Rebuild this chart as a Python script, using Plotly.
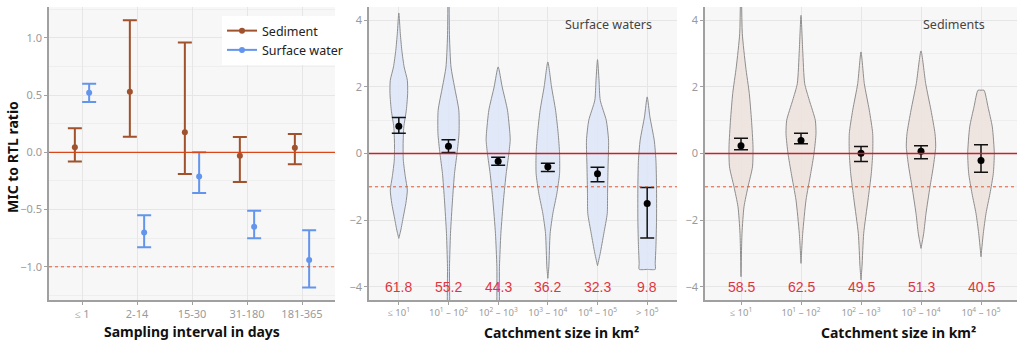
import numpy as np
import plotly.graph_objects as go

# ---------------- data ----------------
interval_cats = ["≤ 1", "2-14", "15-30", "31-180", "181-365"]
sed_mean = [0.045, 0.53, 0.175, -0.03, 0.04]
sed_hi = [0.21, 1.155, 0.96, 0.135, 0.16]
sed_lo = [-0.08, 0.136, -0.19, -0.26, -0.105]
sw_mean = [0.52, -0.70, -0.21, -0.65, -0.94]
sw_hi = [0.60, -0.55, 0.0, -0.51, -0.68]
sw_lo = [0.44, -0.83, -0.355, -0.75, -1.18]

sw_cats = ["≤ 10<sup>1</sup>", "10<sup>1</sup> – 10<sup>2</sup>", "10<sup>2</sup> – 10<sup>3</sup>",
           "10<sup>3</sup> – 10<sup>4</sup>", "10<sup>4</sup> – 10<sup>5</sup>", "> 10<sup>5</sup>"]
sw_c_mean = [0.82, 0.22, -0.23, -0.40, -0.61, -1.50]
sw_c_hi = [1.08, 0.41, -0.11, -0.29, -0.41, -1.02]
sw_c_lo = [0.61, 0.03, -0.35, -0.54, -0.85, -2.54]
sw_pct = ["61.8", "55.2", "44.3", "36.2", "32.3", "9.8"]

sed_cats = sw_cats[:5]
sed_c_mean = [0.23, 0.39, 0.01, 0.07, -0.21]
sed_c_hi = [0.46, 0.61, 0.21, 0.23, 0.26]
sed_c_lo = [0.11, 0.29, -0.24, -0.16, -0.56]
sed_pct = ["58.5", "62.5", "49.5", "51.3", "40.5"]

# violin outlines: levels (ratio) and half-widths (in px of the original figure)
sw_violin_y = [
    [4.22, 3.6, 3.1, 2.6, 2.2, 1.8, 1.3, 0.8, 0.3, -0.2, -0.7, -1.1, -1.5, -1.9, -2.3, -2.55],
    [5.0, 3.5, 2.6, 2.0, 1.3, 0.6, 0.0, -0.6, -1.4, -2.4, -3.4, -5.0],
    [2.6, 2.0, 1.3, 0.6, 0.4, 0.0, -0.6, -1.4, -2.4, -3.4, -5.0],
    [2.75, 2.0, 1.3, 0.6, 0.0, -0.6, -1.2, -1.8, -2.4, -3.4, -3.75],
    [2.82, 2.2, 1.6, 1.0, 0.4, -0.4, -1.2, -1.8, -2.4, -3.0, -3.37],
    [1.7, 1.1, 0.4, -0.2, -1.0, -2.0, -2.8, -3.3, -3.48, -3.48],
]
sw_violin_w = [
    [0, 1.5, 3, 5.3, 8.5, 8.8, 7.5, 5, 4.3, 4.5, 6.5, 8.5, 7, 4.5, 2, 0],
    [0.5, 1, 2.5, 6, 10.3, 10.5, 8.5, 6, 4, 2, 1, 0.5],
    [0, 4, 9.3, 11.7, 12, 10.7, 8, 5.3, 2.7, 1.3, 0.5],
    [0, 3.7, 7.7, 10.3, 11.7, 11.7, 9, 5, 2.3, 1, 0],
    [0, 1.5, 2.7, 8.7, 11, 10.5, 10, 9.7, 6.3, 2.7, 0],
    [0, 2.7, 7, 8.7, 9.3, 9.3, 8.7, 8, 8, 0],
]
sed_violin_y = [
    [5.0, 3.6, 2.6, 1.8, 1.0, 0.2, -0.4, -1.0, -1.6, -2.4, -3.7],
    [4.15, 3.1, 2.1, 1.6, 1.0, 0.6, 0.0, -0.6, -1.4, -2.4, -3.3],
    [3.05, 2.1, 1.3, 0.6, 0.0, -0.6, -1.4, -2.4, -3.4, -3.8],
    [3.08, 2.1, 1.3, 0.6, 0.2, -0.4, -1.0, -1.8, -2.4, -2.85],
    [1.9, 1.9, 1.4, 0.8, 0.0, -0.6, -1.2, -1.8, -2.4, -3.1],
]
sed_violin_w = [
    [0.5, 1.3, 4.7, 8.3, 10.5, 12, 11.5, 7, 3, 1, 0],
    [0, 1.7, 3.7, 8.3, 14.3, 15, 13, 9.7, 5, 1.7, 0],
    [0, 3.3, 8.3, 11.7, 11.7, 10.3, 7, 2.7, 1, 0],
    [0, 4.7, 10, 14, 14.7, 12.3, 9, 5, 2.7, 0],
    [0, 3, 7, 11.3, 13.3, 12.3, 9, 5, 2.3, 0],
]

# ---------------- style ----------------
FONT = "Noto Sans"
SED_COL = "#A0522D"
SW_COL = "#6495ED"
BG = "#F7F7F7"
GRID = "#E6E6E6"
MINOR = "#EEEEEE"
AXIS = "#A0A0A0"
TICKF = "#9A9A9A"
PCT_COL = "#E0353F"
W, H = 1024, 342

def px_x(p):
    return p / W

def px_y(p):
    return 1 - p / H

fig = go.Figure()

# ---------------- left panel ----------------
xi = np.arange(len(interval_cats))
for name, col, off, m, hi, lo in [
    ("Sediment", SED_COL, -0.13, sed_mean, sed_hi, sed_lo),
    ("Surface water", SW_COL, 0.13, sw_mean, sw_hi, sw_lo),
]:
    m = np.array(m); hi = np.array(hi); lo = np.array(lo)
    fig.add_trace(go.Scatter(
        x=xi + off, y=m, mode="markers", marker=dict(color=col, size=6),
        error_y=dict(type="data", symmetric=False, array=hi - m, arrayminus=m - lo,
                     color=col, thickness=2, width=7),
        xaxis="x", yaxis="y", showlegend=False, hoverinfo="skip"))
    fig.add_trace(go.Scatter(
        x=[None], y=[None], mode="lines+markers", name=name,
        line=dict(color=col, width=2), marker=dict(color=col, size=6),
        xaxis="x", yaxis="y"))

# ---------------- violin panels ----------------
def add_violins(vy, vw, pxunit, fill, xa, ya):
    for i, (ys, ws) in enumerate(zip(vy, vw)):
        ys = np.array(ys); ws = np.array(ws) / pxunit
        xs = np.concatenate([i + ws, (i - ws)[::-1]])
        yy = np.concatenate([ys, ys[::-1]])
        fig.add_trace(go.Scatter(
            x=xs, y=yy, mode="lines", fill="toself", fillcolor=fill,
            line=dict(color="#8E8E8E", width=1, shape="spline", smoothing=0.6),
            xaxis=xa, yaxis=ya, showlegend=False, hoverinfo="skip"))

def add_means(m, hi, lo, xa, ya):
    m = np.array(m); hi = np.array(hi); lo = np.array(lo)
    fig.add_trace(go.Scatter(
        x=np.arange(len(m)), y=m, mode="markers", marker=dict(color="black", size=7),
        error_y=dict(type="data", symmetric=False, array=hi - m, arrayminus=m - lo,
                     color="#111111", thickness=1.5, width=7),
        xaxis=xa, yaxis=ya, showlegend=False, hoverinfo="skip"))

add_violins(sw_violin_y, sw_violin_w, 49.5, "rgba(222,231,247,0.9)", "x2", "y2")
add_means(sw_c_mean, sw_c_hi, sw_c_lo, "x2", "y2")
add_violins(sed_violin_y, sed_violin_w, 60.0, "rgba(236,226,222,0.9)", "x3", "y3")
add_means(sed_c_mean, sed_c_hi, sed_c_lo, "x3", "y3")

# percentage labels
pct_font = dict(family="Liberation Sans", size=14, color=PCT_COL)
for i, t in enumerate(sw_pct):
    fig.add_annotation(x=i, y=-4.0, xref="x2", yref="y2", text=t, showarrow=False,
                       xanchor="center", yanchor="middle", font=pct_font)
for i, t in enumerate(sed_pct):
    fig.add_annotation(x=i, y=-4.0, xref="x3", yref="y3", text=t, showarrow=False,
                       xanchor="center", yanchor="middle", font=pct_font)

lab_font = dict(family=FONT, size=12.5, color="#444444")
fig.add_annotation(x=5.13, y=3.88, xref="x2", yref="y2", text="Surface waters",
                   showarrow=False, xanchor="right", yanchor="middle", font=lab_font)
fig.add_annotation(x=4.1, y=3.88, xref="x3", yref="y3", text="Sediments",
                   showarrow=False, xanchor="right", yanchor="middle", font=lab_font)

# reference lines
for xa, ya, zc in [("x", "y", "#D8461A"), ("x2", "y2", "#C8202E"), ("x3", "y3", "#C8202E")]:
    fig.add_shape(type="line", xref=f"{xa} domain", yref=ya, x0=0, x1=1, y0=0, y1=0,
                  line=dict(color=zc, width=1.3), layer="above")
    fig.add_shape(type="line", xref=f"{xa} domain", yref=ya, x0=0, x1=1, y0=-1, y1=-1,
                  line=dict(color="#E4572E", width=1, dash="dot"), layer="above")

# axis titles
title_font = dict(family=FONT, size=14, color="#111111")
for xc, yc, txt, ang in [(192, 331, "Sampling interval in days", 0),
                         (561, 332, "Catchment size in km²", 0),
                         (898, 332, "Catchment size in km²", 0),
                         (13, 157, "MIC to RTL ratio", -90)]:
    fig.add_annotation(x=px_x(xc), y=px_y(yc), xref="paper", yref="paper",
                       xanchor="center", yanchor="middle", textangle=ang,
                       text=f"<b>{txt}</b>", showarrow=False, font=title_font)

def xaxis_cfg(domain, cats, anchor, size):
    return dict(domain=domain, anchor=anchor, range=[-0.6, len(cats) - 0.4],
                tickvals=list(range(len(cats))), ticktext=cats,
                showgrid=True, gridcolor=GRID, gridwidth=1, zeroline=False,
                showline=True, linecolor=AXIS, linewidth=1.5,
                ticks="outside", ticklen=3, tickcolor=AXIS,
                tickfont=dict(family=FONT, size=size, color=TICKF))

def yaxis_cfg(anchor, rng, dtick, fmt, minor_dtick):
    return dict(domain=[px_y(300), px_y(7)], anchor=anchor, range=rng, dtick=dtick,
                tick0=0, tickformat=fmt,
                showgrid=True, gridcolor=GRID, gridwidth=1, zeroline=False,
                showline=True, linecolor=AXIS, linewidth=1.5,
                ticks="outside", ticklen=3, tickcolor=AXIS,
                minor=dict(showgrid=True, gridcolor=MINOR, dtick=minor_dtick, tick0=0, ticks=""),
                tickfont=dict(family=FONT, size=11, color=TICKF))

fig.update_layout(
    width=W, height=H, autosize=False,
    margin=dict(l=0, r=0, t=0, b=0),
    paper_bgcolor="white", plot_bgcolor=BG,
    xaxis=xaxis_cfg([px_x(49), px_x(335)], interval_cats, "y", 11),
    yaxis=yaxis_cfg("x", [-1.29, 1.27], 0.5, ".1f", 0.25),
    xaxis2=xaxis_cfg([px_x(369), px_x(677)], sw_cats, "y2", 9.5),
    yaxis2=yaxis_cfg("x2", [-4.4, 4.4], 2, "d", 1),
    xaxis3=xaxis_cfg([px_x(705), px_x(1017)], sed_cats, "y3", 9.5),
    yaxis3=yaxis_cfg("x3", [-4.4, 4.4], 2, "d", 1),
    legend=dict(x=px_x(222), y=px_y(16), xanchor="left", yanchor="top",
                bgcolor="white", borderwidth=0,
                font=dict(family=FONT, size=12.5, color="#222222"),
                itemwidth=30, tracegroupgap=2),
    showlegend=True,
)

fig.write_html("out.html")
